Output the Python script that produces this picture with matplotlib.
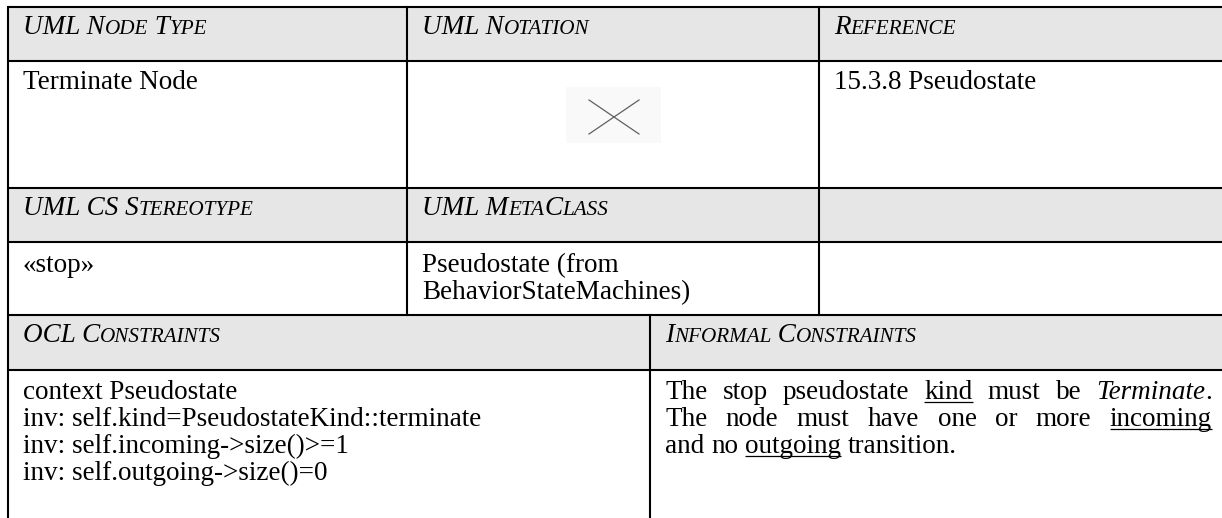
import re
import matplotlib
matplotlib.use('Agg')
import matplotlib.pyplot as plt
from matplotlib.patches import Rectangle

plt.rcParams['font.family'] = ['Liberation Serif', 'DejaVu Serif']

# table content
top_headers = ['UML Node Type', 'UML Notation', 'Reference']
top_values = ['Terminate Node', '', '15.3.8 Pseudostate']
mid_headers = ['UML CS Stereotype', 'UML MetaClass', '']
mid_values = [['«stop»'], ['Pseudostate (from', 'BehaviorStateMachines)'], []]
low_headers = ['OCL Constraints', 'Informal Constraints']
ocl_lines = [
    'context Pseudostate',
    'inv: self.kind=PseudostateKind::terminate',
    'inv: self.incoming->size()>=1',
    'inv: self.outgoing->size()=0',
]
# _word_ = underlined, *word* = italic
informal_lines = [
    'The stop pseudostate _kind_ must be *Terminate*.',
    'The node must have one or more _incoming_',
    'and no _outgoing_ transition.',
]
informal_justify = [True, True, False]

# layout (pixels)
W, H = 1222, 518
FS = 19.5
SC = 0.78
col_top = [8, 407, 819]
col_low = [8, 650]
rows = [7, 61, 188, 242, 315, 370]
PAD = 15
LINE = 27
GREY = '#e6e6e6'

fig = plt.figure(figsize=(W / 100, H / 100), dpi=100)
ax = fig.add_axes([0, 0, 1, 1])
ax.set_xlim(0, W)
ax.set_ylim(H, 0)
ax.axis('off')
renderer = fig.canvas.get_renderer()

SPLIT = r'_[^_]+_|\*[^*]+\*|[^_*]+'


def width(t):
    return t.get_window_extent(renderer=renderer).width


def small_caps(x, y, s):
    for g in re.findall(r'[a-z]+|[^a-z]+', s):
        small = g.islower()
        t = ax.text(x, y, g.upper(), fontsize=FS * SC if small else FS,
                    style='italic', va='baseline', ha='left')
        x += width(t)


def rich_word(x, y, word, draw=True):
    made = []
    for p in re.findall(SPLIT, word):
        st = 'normal'
        ul = False
        if p.startswith('_'):
            p, ul = p[1:-1], True
        elif p.startswith('*'):
            p, st = p[1:-1], 'italic'
        t = ax.text(x, y, p, fontsize=FS, style=st, va='baseline', ha='left')
        w = width(t)
        if not draw:
            made.append(t)
        elif ul:
            ax.plot([x, x + w], [y + 3, y + 3], color='black', lw=0.9,
                    solid_capstyle='butt')
        x += w
    for t in made:
        t.remove()
    return x


# grey header bands
for r in (0, 2, 4):
    ax.add_patch(Rectangle((col_top[0], rows[r]), W - col_top[0], rows[r + 1] - rows[r],
                           facecolor=GREY, edgecolor='none', zorder=0))

# grid lines
lw = 1.5
for y in rows:
    ax.plot([col_top[0], W], [y, y], color='black', lw=lw, solid_capstyle='butt')
ax.plot([col_top[0]] * 2, [rows[0], H], color='black', lw=lw)
for x in col_top[1:]:
    ax.plot([x, x], [rows[0], rows[4]], color='black', lw=lw)
ax.plot([col_low[1]] * 2, [rows[4], H], color='black', lw=lw)

# top header + values
for i, x in enumerate(col_top):
    small_caps(x + PAD, rows[0] + 27, top_headers[i])
    if top_values[i]:
        ax.text(x + PAD, rows[1] + 28, top_values[i], fontsize=FS, va='baseline')

# terminate notation glyph
ax.add_patch(Rectangle((566, 87), 95, 56, facecolor='#f9f9f9', edgecolor='none', zorder=1))
ax.plot([589, 639], [100, 134], color='#606060', lw=0.9, zorder=2)
ax.plot([589, 639], [134, 100], color='#606060', lw=0.9, zorder=2)

# middle header + values
for i, x in enumerate(col_top):
    if mid_headers[i]:
        small_caps(x + PAD, rows[2] + 27, mid_headers[i])
    for k, v in enumerate(mid_values[i]):
        ax.text(x + PAD, rows[3] + 30 + k * LINE, v, fontsize=FS, va='baseline')

# lower header
for i, x in enumerate(col_low):
    small_caps(x + PAD, rows[4] + 27, low_headers[i])

for k, v in enumerate(ocl_lines):
    ax.text(col_low[0] + PAD, rows[5] + 29 + k * LINE, v, fontsize=FS, va='baseline')

# informal constraints, justified
t = ax.text(0, -100, 'x x', fontsize=FS)
t2 = ax.text(0, -100, 'xx', fontsize=FS)
space = width(t) - width(t2)
t.remove()
t2.remove()

x_left = col_low[1] + PAD
x_right = 1212
for k, line in enumerate(informal_lines):
    words = line.split(' ')
    ws = [rich_word(0, -100, w, draw=False) for w in words]
    gap = space
    if informal_justify[k] and len(words) > 1:
        gap = (x_right - x_left - sum(ws)) / (len(words) - 1)
    x = x_left
    y = rows[5] + 29 + k * LINE
    for w, ww in zip(words, ws):
        rich_word(x, y, w)
        x += ww + gap

fig.savefig('out.png', dpi=100)
